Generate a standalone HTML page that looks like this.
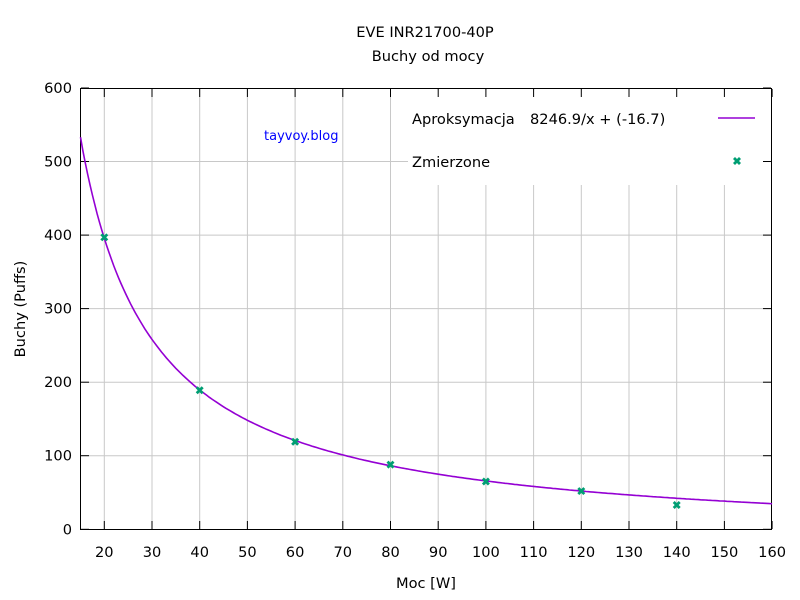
<!DOCTYPE html>
<html><head><meta charset="utf-8"><style>body{margin:0;background:#fff}svg{display:block}text{font-family:"DejaVu Sans","Liberation Sans",sans-serif;font-size:14.6px;fill:#000}</style></head>
<body>
<svg id="s" width="800" height="600" viewBox="0 0 800 600" xmlns="http://www.w3.org/2000/svg">
<g id="grid" stroke="#c8c8c8" stroke-width="1"></g>
<rect x="408" y="90" width="361" height="95" fill="#fff"/>
<g id="ticks" stroke="#000" stroke-width="1"></g>
<rect x="80.5" y="88.5" width="691" height="441" fill="none" stroke="#000"/>
<path id="curve" fill="none" stroke="#9400d3" stroke-width="1.6"/>
<g id="pts" stroke="#009e73" stroke-width="2.8"></g>
<g id="labels"></g>
<text x="425" y="37" text-anchor="middle">EVE INR21700-40P</text>
<text x="428" y="61" text-anchor="middle">Buchy od mocy</text>
<text x="426" y="588" text-anchor="middle">Moc [W]</text>
<text transform="translate(25,309) rotate(-90)" text-anchor="middle">Buchy (Puffs)</text>
<text x="264" y="140" style="fill:#0000ff;font-size:13px">tayvoy.blog</text>
<text x="412" y="124">Aproksymacja</text>
<text x="530" y="124">8246.9/x + (-16.7)</text>
<line x1="718" y1="118" x2="755" y2="118" stroke="#9400d3" stroke-width="1.6"/>
<text x="412" y="167">Zmierzone</text>
<g stroke="#009e73" stroke-width="2.8"><line x1="734" y1="158" x2="740" y2="164"/><line x1="740" y1="158" x2="734" y2="164"/></g>
</svg>
<script>
const X=v=>104.3+(v-20)*4.77, Y=v=>529.3-v*0.7355;
const ns="http://www.w3.org/2000/svg";
function el(p,t,a,txt){const e=document.createElementNS(ns,t);for(const k in a)e.setAttribute(k,a[k]);if(txt!==undefined)e.textContent=txt;document.getElementById(p).appendChild(e);}
for(let v=20;v<=160;v+=10){const x=X(v).toFixed(1);
 if(v<160)el('grid','line',{x1:x,y1:89,x2:x,y2:529});
 el('ticks','line',{x1:x,y1:529,x2:x,y2:521});el('ticks','line',{x1:x,y1:89,x2:x,y2:97});
 el('labels','text',{x:x,y:557,'text-anchor':'middle'},v);}
for(let v=0;v<=600;v+=100){const y=Y(v).toFixed(1);
 if(v>0&&v<600)el('grid','line',{x1:81,y1:y,x2:771,y2:y});
 el('ticks','line',{x1:81,y1:y,x2:89,y2:y});el('ticks','line',{x1:771,y1:y,x2:763,y2:y});
 el('labels','text',{x:72,y:(+y+5).toFixed(1),'text-anchor':'end'},v);}
let d='';for(let v=15;v<=160;v+=0.5){d+=(v==15?'M':'L')+X(v).toFixed(1)+','+Y(8246.9/v-16.7).toFixed(1);}
document.getElementById('curve').setAttribute('d',d);
[[20,397],[40,189],[60,119],[80,88],[100,65],[120,52],[140,33]].forEach(([a,b])=>{const x=X(a),y=Y(b);
 el('pts','line',{x1:x-3,y1:y-3,x2:x+3,y2:y+3});el('pts','line',{x1:x+3,y1:y-3,x2:x-3,y2:y+3});});
</script>
</body></html>
